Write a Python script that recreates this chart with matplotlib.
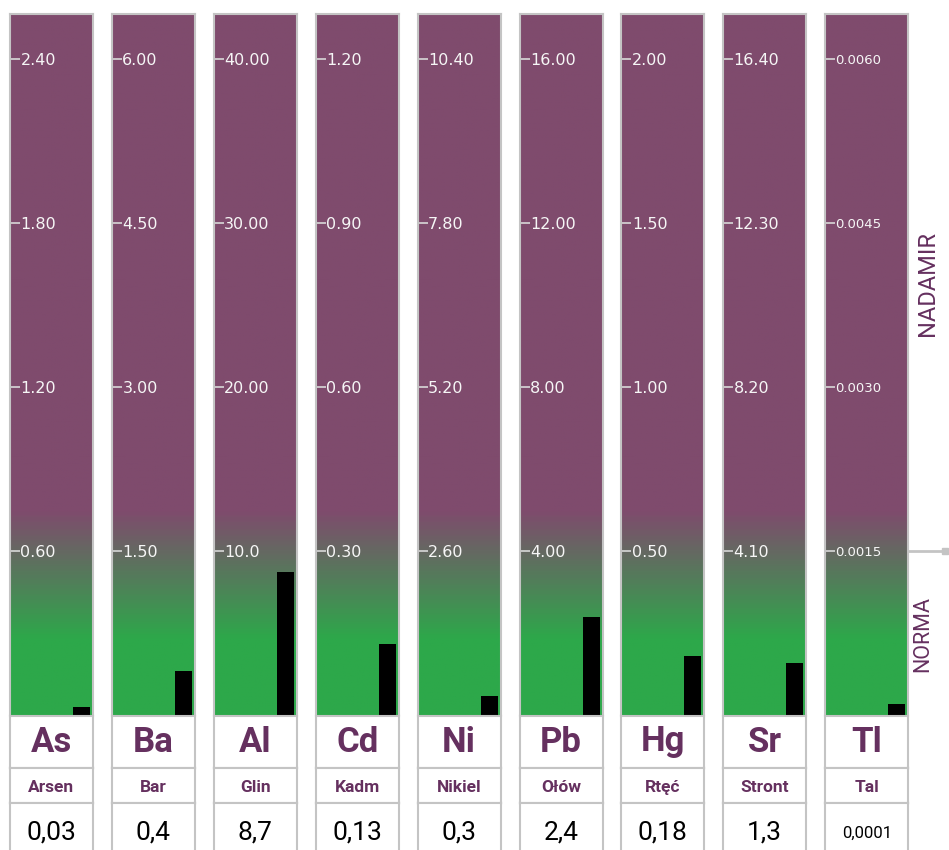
import matplotlib.pyplot as plt
import numpy as np
from matplotlib.colors import LinearSegmentedColormap

plt.rcParams['font.family'] = ['Roboto', 'DejaVu Sans']

symbols = ['As', 'Ba', 'Al', 'Cd', 'Ni', 'Pb', 'Hg', 'Sr', 'Tl']
names = ['Arsen', 'Bar', 'Glin', 'Kadm', 'Nikiel', 'Ołów', 'Rtęć', 'Stront', 'Tal']
values = [0.03, 0.4, 8.7, 0.13, 0.3, 2.4, 0.18, 1.3, 0.0001]
value_labels = ['0,03', '0,4', '8,7', '0,13', '0,3', '2,4', '0,18', '1,3', '0,0001']
norms = [0.60, 1.50, 10.0, 0.30, 2.60, 4.00, 0.50, 4.10, 0.0015]
tick_labels = [
    ['0.60', '1.20', '1.80', '2.40'],
    ['1.50', '3.00', '4.50', '6.00'],
    ['10.0', '20.00', '30.00', '40.00'],
    ['0.30', '0.60', '0.90', '1.20'],
    ['2.60', '5.20', '7.80', '10.40'],
    ['4.00', '8.00', '12.00', '16.00'],
    ['0.50', '1.00', '1.50', '2.00'],
    ['4.10', '8.20', '12.30', '16.40'],
    ['0.0015', '0.0030', '0.0045', '0.0060'],
]

W, H = 949, 850
fig = plt.figure(figsize=(W / 100, H / 100), dpi=100)

purple = '#7f4b6d'
green = '#2da84a'
dark = '#65305f'
border = '#c4c4c4'
cmap = LinearSegmentedColormap.from_list(
    'grad', [(0, green), (0.107, green), (0.29, purple), (1, purple)])


def fax(x0, y0, x1, y1):
    # pixel box (top-left origin) -> figure axes
    return fig.add_axes([x0 / W, 1 - y1 / H, (x1 - x0) / W, (y1 - y0) / H])


panel_w = 83
top_px, zero_px, norm_px = 14, 715, 551

for i in range(9):
    x0 = 10 + 101.9 * i
    ax = fax(x0, top_px, x0 + panel_w, zero_px)
    scale = norms[i] / (zero_px - norm_px)
    ymax = scale * (zero_px - top_px)
    ax.set_xlim(0, 1)
    ax.set_ylim(0, ymax)
    grad = np.linspace(0, 1, 400).reshape(-1, 1)
    ax.imshow(grad, cmap=cmap, origin='lower', aspect='auto',
              extent=(0, 1, 0, ymax), zorder=0)
    ax.bar(0.862, values[i], width=0.205, color='black', zorder=2)
    ticks = [norms[i] * k for k in range(1, 5)]
    fs = 9.5 if i == 8 else 11.5
    ax.set_yticks(ticks)
    ax.set_yticklabels(tick_labels[i], fontfamily='DejaVu Sans',
                       fontsize=fs, ha='left')
    ax.tick_params(axis='y', direction='in', length=7, width=1.2,
                   color='#d8d8d8', labelcolor='#f6f6f6', pad=-7.5)
    ax.set_xticks([])
    for s in ax.spines.values():
        s.set_color(border)
        s.set_linewidth(1.5)
    ax.spines['bottom'].set_visible(False)

    # cells below
    cells = [(716, 768), (768, 803), (803, 870)]
    for j, (c0, c1) in enumerate(cells):
        cax = fax(x0, c0, x0 + panel_w, c1)
        cax.set_xticks([])
        cax.set_yticks([])
        cax.set_xlim(0, 1)
        cax.set_ylim(0, 1)
        for s in cax.spines.values():
            s.set_color(border)
            s.set_linewidth(1.5)
        if j == 0:
            cax.text(0.5, 0.5, symbols[i], ha='center', va='center',
                     fontsize=25, fontweight='bold', color=dark)
        elif j == 1:
            cax.text(0.5, 0.45, names[i], ha='center', va='center',
                     fontsize=12.5, fontweight='bold', color=dark)
        else:
            vy = 1 - 30 / (c1 - c0)
            cax.text(0.5, vy, value_labels[i], ha='center', va='center',
                     fontsize=12 if i == 8 else 19, color='black')

# right-side labels
fig.text(927 / W, 1 - 283 / H, 'NADAMIR', rotation=90, ha='center',
         va='center', fontsize=17, color=dark)
fig.text(923 / W, 1 - 634 / H, 'NORMA', rotation=90, ha='center',
         va='center', fontsize=15.5, color=dark)
fig.add_artist(plt.Line2D([908 / W, 945 / W], [1 - norm_px / H] * 2,
                          color=border, lw=2))
fig.add_artist(plt.Line2D([945 / W], [1 - norm_px / H], marker='s',
                          markersize=5, color=border, lw=0))

fig.savefig('out.png', dpi=100)
